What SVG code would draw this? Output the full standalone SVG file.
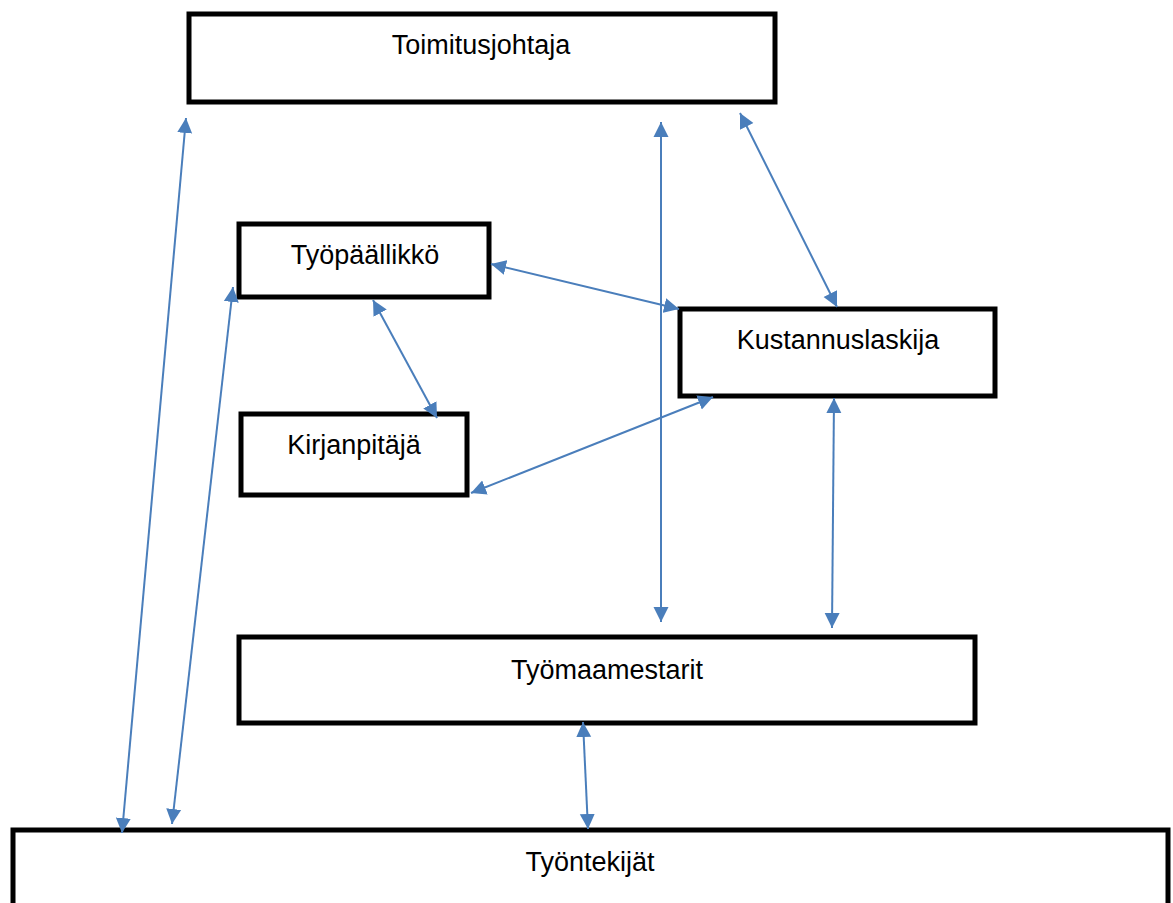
<svg xmlns="http://www.w3.org/2000/svg" width="1173" height="903" viewBox="0 0 1173 903">
<style>
.box{fill:#fff;stroke:#000;stroke-width:5}
.lbl{font-family:"Liberation Sans",Arial,sans-serif;font-size:27px;fill:#000;text-anchor:middle}
.con{stroke:#4a7ebb;stroke-width:2;fill:none;marker-start:url(#ah);marker-end:url(#ah)}
</style>
<defs>
<marker id="ah" markerUnits="userSpaceOnUse" markerWidth="16" markerHeight="16" refX="15" refY="7.5" orient="auto-start-reverse" viewBox="0 0 16 15">
<path d="M0,0 L15,7.5 L0,15 z" fill="#4a7ebb"/>
</marker>
</defs>
<rect width="1173" height="903" fill="#fff"/>
<g id="toimitusjohtaja"><rect class="box" x="189" y="14" width="586" height="88"/><text class="lbl" x="481" y="54">Toimitusjohtaja</text></g>
<g id="tyopaallikko"><rect class="box" x="239" y="224" width="250" height="73"/><text class="lbl" x="365" y="264">Työpäällikkö</text></g>
<g id="kustannuslaskija"><rect class="box" x="680" y="309" width="315" height="87"/><text class="lbl" x="838" y="349">Kustannuslaskija</text></g>
<g id="kirjanpitaja"><rect class="box" x="241" y="414" width="226" height="81"/><text class="lbl" x="354" y="454">Kirjanpitäjä</text></g>
<g id="tyomaamestarit"><rect class="box" x="239" y="637" width="736" height="86"/><text class="lbl" x="607" y="679">Työmaamestarit</text></g>
<g id="tyontekijat"><rect class="box" x="13" y="830" width="1155" height="85"/><text class="lbl" x="590" y="871">Työntekijät</text></g>
<g id="connectors">
<line class="con" x1="186" y1="118" x2="122" y2="833"/>
<line class="con" x1="233" y1="287" x2="172" y2="824"/>
<line class="con" x1="661" y1="122" x2="661" y2="622"/>
<line class="con" x1="740" y1="113" x2="837" y2="307"/>
<line class="con" x1="491" y1="264" x2="679" y2="309"/>
<line class="con" x1="373" y1="300" x2="437" y2="418"/>
<line class="con" x1="471" y1="493" x2="713" y2="397"/>
<line class="con" x1="834" y1="398" x2="832" y2="628"/>
<line class="con" x1="583" y1="722" x2="588" y2="829"/>
</g>
</svg>
